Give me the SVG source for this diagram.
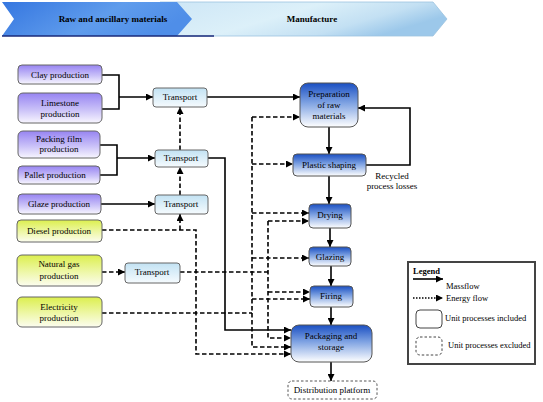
<svg xmlns="http://www.w3.org/2000/svg" width="543" height="402" viewBox="0 0 543 402">
<defs>
<linearGradient id="gPurple" x1="0" y1="0" x2="0" y2="1"><stop offset="0" stop-color="#9784f2"/><stop offset="0.55" stop-color="#c9c0f8"/><stop offset="1" stop-color="#f8f6ff"/></linearGradient>
<linearGradient id="gYellow" x1="0" y1="0" x2="0" y2="1"><stop offset="0" stop-color="#dcef4e"/><stop offset="0.55" stop-color="#eef7a8"/><stop offset="1" stop-color="#fcfdf0"/></linearGradient>
<linearGradient id="gTrans" x1="0" y1="0" x2="0" y2="1"><stop offset="0" stop-color="#c2e2f3"/><stop offset="1" stop-color="#f6fbfe"/></linearGradient>
<linearGradient id="gBlue" x1="0" y1="0" x2="0" y2="1"><stop offset="0" stop-color="#1a4fc2"/><stop offset="0.45" stop-color="#7ea2e2"/><stop offset="1" stop-color="#ffffff"/></linearGradient>
<linearGradient id="gHead1" x1="0" y1="0" x2="1" y2="0.3"><stop offset="0" stop-color="#3576e0"/><stop offset="0.6" stop-color="#5f9cec"/><stop offset="1" stop-color="#4f8ee8"/></linearGradient>
<linearGradient id="gHead2" x1="0" y1="0" x2="1" y2="0.4"><stop offset="0" stop-color="#cde6f6"/><stop offset="0.5" stop-color="#dcf0f9"/><stop offset="0.8" stop-color="#c3e0f3"/><stop offset="1" stop-color="#9cc8ea"/></linearGradient>
<marker id="arr" markerUnits="userSpaceOnUse" markerWidth="8" markerHeight="7" refX="7" refY="3.5" orient="auto"><path d="M0,0 L7,3.5 L0,7 z" fill="#000"/></marker>
<style>
.txt{font-family:"Liberation Serif","Times New Roman",serif;font-size:9px;fill:#000;text-anchor:middle}
.hd{font-family:"Liberation Serif","Times New Roman",serif;font-size:9px;font-weight:bold;fill:#000;text-anchor:middle}
.lg{font-family:"Liberation Serif","Times New Roman",serif;font-size:8.5px;fill:#000}
.src{fill:url(#gPurple);stroke:#666;stroke-width:1}
.fuel{fill:url(#gYellow);stroke:#666;stroke-width:1}
.trn{fill:url(#gTrans);stroke:#666;stroke-width:1}
.mf{fill:url(#gBlue);stroke:#555;stroke-width:1}
.solid{fill:none;stroke:#000;stroke-width:1.6}
.dash{fill:none;stroke:#000;stroke-width:1.6;stroke-dasharray:4.5,2.5}
.sa{marker-end:url(#arr)}
</style>
</defs>
<rect width="543" height="402" fill="#fff"/>

<g id="header">
<polygon points="160,2 433,2 447,19 433,36 160,36" fill="url(#gHead2)" stroke="#9cc3e0" stroke-width="0.8"/>
<polygon points="2,2 177,2 192,19 177,36 2,36 14,19" fill="url(#gHead1)"/>
<line x1="2" y1="36" x2="214" y2="36" stroke="#1a2a7a" stroke-width="1.6"/>
<text class="hd" x="113" y="22">Raw and ancillary materials</text>
<text class="hd" x="312" y="22">Manufacture</text>
</g>

<g id="connectors">
<path class="solid" d="M102,75 H119 V109 H102"/>
<path class="solid sa" d="M119,97 H153"/>
<path class="solid sa" d="M207,97 H300"/>
<path class="solid" d="M100,145 H117 V175 H100"/>
<path class="solid sa" d="M117,158 H155"/>
<path class="solid sa" d="M208,158 H225 V330 H291"/>
<path class="solid sa" d="M101,204 H155"/>
<path class="solid sa" d="M329,127 V154"/>
<path class="solid sa" d="M329,176 V204"/>
<path class="solid sa" d="M330,228 V247"/>
<path class="solid sa" d="M331,266 V286"/>
<path class="solid sa" d="M331,307 V325"/>
<path class="solid sa" d="M331,362 V381"/>
<path class="solid sa" d="M366,165 H410 V108 H358"/>

<path class="dash sa" d="M180,150 V107"/>
<path class="dash sa" d="M180,195 V167"/>
<path class="dash sa" d="M102,230 H196 V354 H291"/>
<path class="dash sa" d="M180,230 V214"/>
<path class="dash sa" d="M102,272 H125"/>
<path class="dash" d="M180,272 H268"/>
<path class="dash sa" d="M268,221 H309"/>
<path class="dash sa" d="M268,221 V338 H291"/>
<path class="dash sa" d="M268,292 H310"/>
<path class="dash" d="M102,313 H252"/>
<path class="dash sa" d="M252,117 V347 H291"/>
<path class="dash sa" d="M252,117 H300"/>
<path class="dash sa" d="M252,164 H293"/>
<path class="dash sa" d="M252,213 H309"/>
<path class="dash sa" d="M252,258 H309"/>
<path class="dash sa" d="M252,299 H310"/>
</g>

<g id="clay"><rect class="src" x="18" y="65" width="84" height="19" rx="4"/><text class="txt" x="60" y="78">Clay production</text></g>
<g id="limestone"><rect class="src" x="18" y="93" width="84" height="30" rx="5"/><text class="txt" x="60" y="106">Limestone</text><text class="txt" x="60" y="117">production</text></g>
<g id="packingfilm"><rect class="src" x="18" y="131" width="82" height="27" rx="5"/><text class="txt" x="59" y="142">Packing film</text><text class="txt" x="59" y="152">production</text></g>
<g id="pallet"><rect class="src" x="18" y="166" width="82" height="18" rx="4"/><text class="txt" x="55" y="178">Pallet production</text></g>
<g id="glaze"><rect class="src" x="18" y="194" width="83" height="20" rx="4"/><text class="txt" x="59" y="207">Glaze production</text></g>
<g id="diesel"><rect class="fuel" x="17" y="220" width="85" height="22" rx="4"/><text class="txt" x="59" y="234">Diesel production</text></g>
<g id="naturalgas"><rect class="fuel" x="17" y="255" width="85" height="31" rx="5"/><text class="txt" x="59" y="267">Natural gas</text><text class="txt" x="59" y="279">production</text></g>
<g id="electricity"><rect class="fuel" x="17" y="297" width="85" height="30" rx="5"/><text class="txt" x="59" y="310">Electricity</text><text class="txt" x="59" y="321">production</text></g>

<g id="transport1"><rect class="trn" x="153" y="88" width="54" height="19" rx="3"/><text class="txt" x="180" y="100">Transport</text></g>
<g id="transport2"><rect class="trn" x="155" y="150" width="53" height="17" rx="3"/><text class="txt" x="181" y="161">Transport</text></g>
<g id="transport3"><rect class="trn" x="155" y="195" width="53" height="19" rx="3"/><text class="txt" x="181" y="207">Transport</text></g>
<g id="transport4"><rect class="trn" x="125" y="263" width="55" height="20" rx="3"/><text class="txt" x="152" y="275">Transport</text></g>

<g id="preparation"><rect class="mf" x="300" y="83" width="58" height="44" rx="8"/><text class="txt" x="329" y="97">Preparation</text><text class="txt" x="329" y="108">of raw</text><text class="txt" x="329" y="119">materials</text></g>
<g id="plastic"><rect class="mf" x="293" y="154" width="73" height="22" rx="4"/><text class="txt" x="329" y="168">Plastic shaping</text></g>
<g id="drying"><rect class="mf" x="309" y="204" width="42" height="24" rx="4"/><text class="txt" x="330" y="218">Drying</text></g>
<g id="glazing"><rect class="mf" x="309" y="247" width="42" height="19" rx="4"/><text class="txt" x="330" y="260">Glazing</text></g>
<g id="firing"><rect class="mf" x="310" y="286" width="43" height="21" rx="4"/><text class="txt" x="331" y="299">Firing</text></g>
<g id="packaging"><rect class="mf" x="291" y="325" width="81" height="37" rx="8"/><text class="txt" x="331" y="339">Packaging and</text><text class="txt" x="331" y="350">storage</text></g>
<g id="distribution"><rect x="288" y="381" width="89" height="18" rx="4" fill="#fff" stroke="#555" stroke-width="1" stroke-dasharray="2.5,2"/><text class="txt" x="332" y="393">Distribution platform</text></g>

<g id="recycled-label"><text class="txt" x="392" y="179">Recycled</text><text class="txt" x="392" y="189">process losses</text></g>

<g id="legend">
<rect x="408" y="262" width="127" height="102" fill="#fff" stroke="#444" stroke-width="2"/>
<text class="lg" x="413" y="274" font-weight="bold">Legend</text>
<path class="solid sa" d="M413,279 H443"/>
<text class="lg" x="446" y="289">Massflow</text>
<path d="M413,298 H443" fill="none" stroke="#000" stroke-width="1.6" stroke-dasharray="1.5,1.5" marker-end="url(#arr)"/>
<text class="lg" x="446" y="301">Energy flow</text>
<rect x="416" y="310" width="26" height="18" rx="4" fill="#fff" stroke="#444" stroke-width="1"/>
<text class="lg" x="445" y="321">Unit processes included</text>
<rect x="416" y="337" width="26" height="18" rx="4" fill="#fff" stroke="#444" stroke-width="1" stroke-dasharray="2.5,2"/>
<text class="lg" x="448" y="348">Unit processes excluded</text>
</g>
</svg>
